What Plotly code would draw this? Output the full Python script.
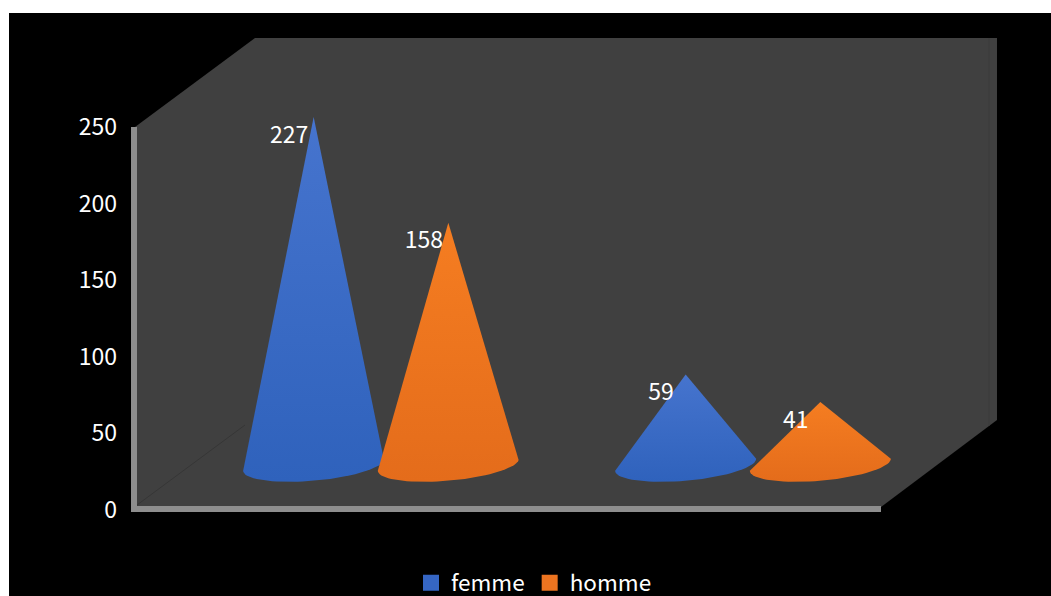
import math
import plotly.graph_objects as go

# Survey counts per group, split by sex
group_index = [0, 1]
series_names = ["femme", "homme"]
femme_values = [227, 59]
homme_values = [158, 41]
y_ticks = [0, 50, 100, 150, 200, 250]

WIDTH, HEIGHT = 1051, 596
LEFT = 131
FONT = "Noto Sans CJK SC"
WALL = "#404040"
AXIS_BAR = "#8e8e8e"

# y axis scale: value 0 sits at pixel 510, 1.532 px per unit
Y_RANGE = [(510 - HEIGHT) / 1.532, 510 / 1.532]
# x axis scale: one group is 372 px wide, first group centred at pixel 381
X_RANGE = [(LEFT - 381) / 372, (WIDTH - 381) / 372]

FLOOR = 29.5      # height of the cone bases on the projected floor
OFFSET = 0.181    # horizontal shift of each series within a group
RADIUS = 0.1895   # cone base radius, x units
TILT = 3.9        # rise of the base ellipse from left to right, y units
DEPTH = 10.4      # half depth of the base ellipse, y units


def px(x):
    return (x - LEFT) / (WIDTH - LEFT)


def py(y):
    return (HEIGHT - y) / HEIGHT


def poly(points, fill, line=None):
    path = "M " + " L ".join(f"{px(a):.5f},{py(b):.5f}" for a, b in points) + " Z"
    return dict(type="path", xref="paper", yref="paper", path=path, layer="below",
                fillcolor=fill, line=dict(width=1, color=line) if line else dict(width=0))


def cone_outline(center, value):
    xs, ys = [center], [value + FLOOR]
    for i in range(41):
        t = math.pi * i / 40
        xs.append(center + RADIUS * math.cos(t))
        ys.append(FLOOR + TILT * math.cos(t) - DEPTH * math.sin(t))
    xs.append(center)
    ys.append(value + FLOOR)
    return xs, ys


fig = go.Figure()

gradients = {
    "femme": [[0, "#2F62BC"], [1, "#4674CE"]],
    "homme": [[0, "#E46C1B"], [1, "#F57D21"]],
}
swatches = {"femme": "#3566C4", "homme": "#ED7420"}
series = {"femme": (femme_values, -OFFSET), "homme": (homme_values, OFFSET)}

for name in series_names:
    values, shift = series[name]
    for g, v in zip(group_index, values):
        xs, ys = cone_outline(g + shift, v)
        fig.add_trace(go.Scatter(
            x=xs, y=ys, mode="lines", line=dict(width=0), fill="toself",
            fillgradient=dict(type="vertical", colorscale=gradients[name]),
            hoverinfo="skip", showlegend=False,
        ))

for name in series_names:
    fig.add_trace(go.Scatter(
        x=[None], y=[None], mode="markers", name=name,
        marker=dict(symbol="square", size=16, color=swatches[name]),
    ))

# Value labels sit just left of each apex
for name in series_names:
    values, shift = series[name]
    fig.add_trace(go.Scatter(
        x=[g + shift - 0.066 for g in group_index],
        y=[v + FLOOR - 13 for v in values],
        mode="text", text=[str(v) for v in values], textposition="middle center",
        textfont=dict(family=FONT, size=23, color="white"),
        hoverinfo="skip", showlegend=False,
    ))

shapes = [
    # Black chart area inside the white page edge
    dict(type="rect", xref="paper", yref="paper", layer="below",
         x0=px(9), x1=px(WIDTH), y0=py(HEIGHT), y1=py(13),
         fillcolor="black", line=dict(width=0)),
    # Projected wall and floor of the box
    poly([(135, 127), (255, 38), (997, 38), (997, 420), (881, 507), (135, 507)], WALL),
    dict(type="line", xref="paper", yref="paper", layer="below",
         x0=px(137), y0=py(505), x1=px(245), y1=py(425),
         line=dict(color="#363636", width=1)),
    dict(type="line", xref="paper", yref="paper", layer="below",
         x0=px(989), y0=py(38), x1=px(989), y1=py(426),
         line=dict(color="#3b3b3b", width=1)),
    # Heavy axis bars
    dict(type="rect", xref="paper", yref="paper", layer="below",
         x0=px(131), x1=px(137), y0=py(512), y1=py(127),
         fillcolor=AXIS_BAR, line=dict(width=0)),
    dict(type="rect", xref="paper", yref="paper", layer="below",
         x0=px(131), x1=px(881), y0=py(512), y1=py(506),
         fillcolor=AXIS_BAR, line=dict(width=0)),
]

fig.update_layout(
    width=WIDTH, height=HEIGHT,
    margin=dict(l=LEFT, r=0, t=0, b=0, pad=0, autoexpand=False),
    paper_bgcolor="white", plot_bgcolor="rgba(0,0,0,0)",
    shapes=shapes,
    xaxis=dict(visible=False, range=X_RANGE, fixedrange=True),
    yaxis=dict(
        range=Y_RANGE, tickmode="array", tickvals=y_ticks,
        showgrid=False, zeroline=False, showline=False, ticks="",
        ticklabelstandoff=13, automargin=False,
        tickfont=dict(family=FONT, size=23, color="white"), fixedrange=True,
    ),
    legend=dict(
        orientation="h", x=px(411), xanchor="left", y=py(583), yanchor="middle",
        font=dict(family=FONT, size=22.5, color="white"), bgcolor="rgba(0,0,0,0)",
        itemwidth=30, tracegroupgap=0,
    ),
)

fig.write_html("out.html", config=dict(displayModeBar=False))
